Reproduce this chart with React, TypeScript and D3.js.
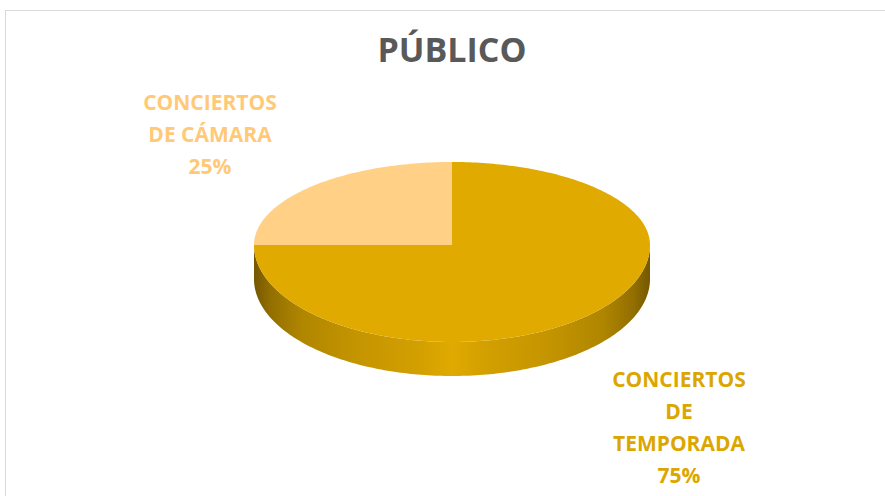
import React from "react";
import * as d3 from "d3";

const categories = ["CONCIERTOS DE TEMPORADA", "CONCIERTOS DE CÁMARA"];
const values = [75, 25];
const labelLines = [
  ["CONCIERTOS", "DE", "TEMPORADA"],
  ["CONCIERTOS", "DE CÁMARA"],
];
const sliceColors = ["#E0AA00", "#FFD086"];
const labelColors = ["#DCA600", "#FFC978"];
const title = "PÚBLICO";

const W = 885;
const H = 496;
const cx = 452;
const cy = 245;
const rx = 198;
const ryTop = 83;
const ryBot = 97;
const depth = 34;

function pt(theta: number, dy = 0): [number, number] {
  const c = Math.cos(theta);
  const ry = c > 0 ? ryTop : ryBot;
  return [cx + rx * Math.sin(theta), cy - ry * c + dy];
}

function arcPoints(a0: number, a1: number, dy = 0): [number, number][] {
  const n = Math.max(8, Math.ceil(((a1 - a0) / (2 * Math.PI)) * 360));
  const pts: [number, number][] = [];
  for (let i = 0; i <= n; i++) pts.push(pt(a0 + ((a1 - a0) * i) / n, dy));
  return pts;
}

export default function App() {
  const total = d3.sum(values);
  const pie = d3.pie<number>().sort(null).startAngle(0).endAngle(2 * Math.PI);
  const arcs = pie(values);
  const line = d3.line();
  const pct = d3.format(".0%");

  const sides = arcs
    .map((a, i) => {
      const s = Math.max(a.startAngle, Math.PI / 2);
      const e = Math.min(a.endAngle, (3 * Math.PI) / 2);
      if (e <= s) return null;
      const top = arcPoints(s, e);
      const bot = arcPoints(s, e, depth).reverse();
      return { i, d: line([...top, ...bot])! + "Z" };
    })
    .filter(Boolean) as { i: number; d: string }[];

  const labelPos = [
    { x: 679, y: 387 },
    { x: 210, y: 110 },
  ];
  const lineH = 32;

  return (
    <svg
      width={W}
      height={H}
      style={{ position: "absolute", left: 0, top: 0, background: "#fff" }}
    >
      <defs>
        <linearGradient id="sideGrad" gradientUnits="userSpaceOnUse" x1={cx - rx} x2={cx + rx} y1={0} y2={0}>
          <stop offset="0%" stopColor="#745700" />
          <stop offset="4%" stopColor="#926e00" />
          <stop offset="12%" stopColor="#b08600" />
          <stop offset="26%" stopColor="#c59500" />
          <stop offset="42%" stopColor="#d3a000" />
          <stop offset="50%" stopColor="#e0aa00" />
          <stop offset="58%" stopColor="#d3a000" />
          <stop offset="74%" stopColor="#c59500" />
          <stop offset="88%" stopColor="#b08600" />
          <stop offset="96%" stopColor="#926e00" />
          <stop offset="100%" stopColor="#745700" />
        </linearGradient>
      </defs>
      <rect x={5.5} y={10.5} width={W + 10} height={H + 10} fill="#fff" stroke="#d9d9d9" strokeWidth={1} />
      <text
        x={cx}
        y={62}
        textAnchor="middle"
        fontFamily="'Open Sans', sans-serif"
        fontWeight="bold"
        fontSize={34}
        fill="#595959"
      >
        {title}
      </text>
      {sides.map((s) => (
        <path key={"side" + s.i} d={s.d} fill="url(#sideGrad)" />
      ))}
      {arcs.map((a, i) => {
        const pts: [number, number][] = [[cx, cy], ...arcPoints(a.startAngle, a.endAngle)];
        return <path key={categories[i]} d={line(pts)! + "Z"} fill={sliceColors[i]} />;
      })}
      {arcs.map((a, i) => {
        const lines = [...labelLines[i], pct(values[i] / total)];
        return (
          <text
            key={"lab" + i}
            textAnchor="middle"
            fontFamily="'Open Sans', sans-serif"
            fontWeight="bold"
            fontSize={21}
            fill={labelColors[i]}
          >
            {lines.map((l, j) => (
              <tspan key={j} x={labelPos[i].x} y={labelPos[i].y + j * lineH}>
                {l}
              </tspan>
            ))}
          </text>
        );
      })}
    </svg>
  );
}
